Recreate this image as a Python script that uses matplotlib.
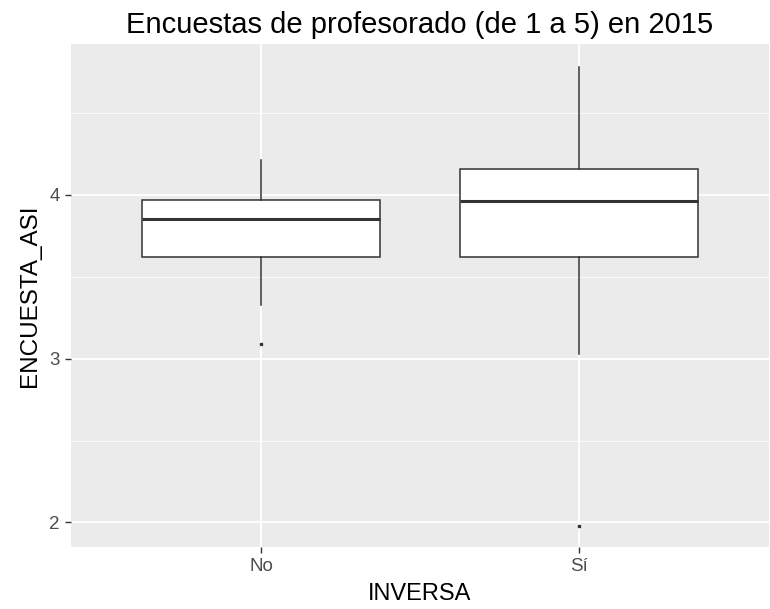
import matplotlib
matplotlib.use("Agg")
import matplotlib.pyplot as plt
from matplotlib.ticker import FixedLocator

plt.rcParams['font.family'] = ['Liberation Sans', 'DejaVu Sans']

# valores
categorias = ["No", "Sí"]
q1 = [3.62, 3.62]
medianas = [3.853, 3.963]
q3 = [3.97, 4.16]
bigote_inf = [3.324, 3.03]
bigote_sup = [4.21, 4.78]
atipicos = [[3.088], [1.98]]

stats = []
for i, cat in enumerate(categorias):
    stats.append({
        "label": cat,
        "q1": q1[i], "med": medianas[i], "q3": q3[i],
        "whislo": bigote_inf[i], "whishi": bigote_sup[i],
        "fliers": atipicos[i],
    })

fig = plt.figure(figsize=(7.7, 6.09), dpi=100)
ax = fig.add_axes([71 / 770, 62 / 609, 698 / 770, 503 / 609])
ax.set_facecolor("#EBEBEB")

ax.bxp(stats, positions=[1, 2], widths=0.75, patch_artist=True, showcaps=False,
       boxprops=dict(facecolor="white", edgecolor="#333333", linewidth=1.1),
       medianprops=dict(color="#333333", linewidth=2.2),
       whiskerprops=dict(color="#333333", linewidth=1.1),
       flierprops=dict(marker="s", markersize=1.8, markerfacecolor="#333333",
                       markeredgecolor="#333333"),
       zorder=3)

ax.set_xlim(0.4, 2.6)
ax.set_ylim(1.85, 4.92)
ax.set_xticks([1, 2])
ax.set_xticklabels(categorias)
ax.set_yticks([2, 3, 4])
ax.set_yticklabels(["2", "3", "4"])
ax.yaxis.set_minor_locator(FixedLocator([2.5, 3.5, 4.5]))

ax.grid(True, which="major", color="white", linewidth=1.3, zorder=0)
ax.grid(True, which="minor", axis="y", color="white", linewidth=0.6, zorder=0)
ax.set_axisbelow(True)
for s in ax.spines.values():
    s.set_visible(False)

ax.tick_params(axis="both", which="major", color="#333333", length=4, width=1,
               labelsize=13.5, labelcolor="#4D4D4D", pad=4)
ax.tick_params(axis="y", which="minor", length=0)

ax.set_xlabel("INVERSA", fontsize=17, color="black", labelpad=6)
ax.set_ylabel("ENCUESTA_ASI", fontsize=17.5, color="black", labelpad=6)
ax.set_title("Encuestas de profesorado (de 1 a 5) en 2015", fontsize=21, pad=8)

fig.savefig("out.png", dpi=100)
